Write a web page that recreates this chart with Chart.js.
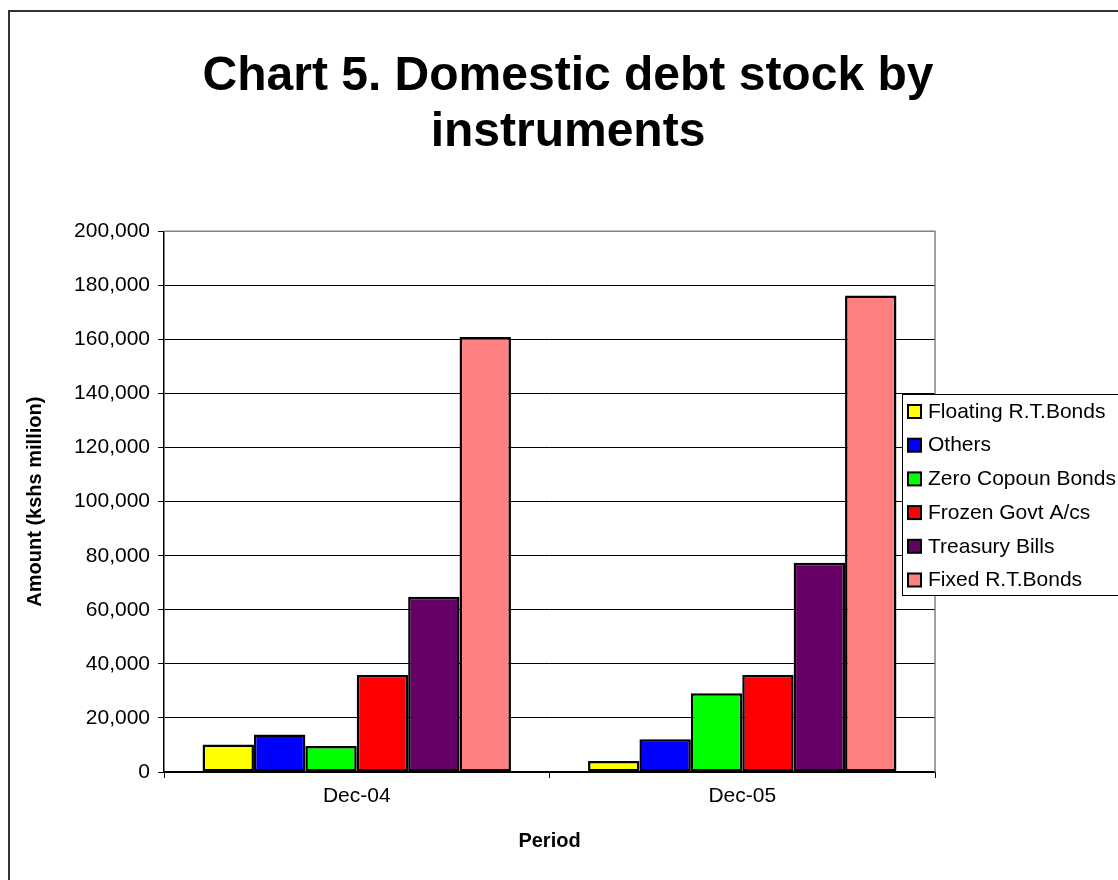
<!DOCTYPE html>
<html>
<head>
<meta charset="utf-8">
<script src="https://cdn.jsdelivr.net/npm/chart.js@4.4.1/dist/chart.umd.min.js"></script>
<style>
  html, body { margin: 0; padding: 0; background: #fff; overflow: hidden; width: 1118px; height: 880px; }
  #frame { position: absolute; left: 8px; top: 10px; width: 1200px; height: 900px; border: 2px solid #333; box-sizing: border-box; }
  #wrap { position: absolute; left: 0; top: 0; width: 1136px; height: 880px; }
</style>
</head>
<body>
<div id="frame"></div>
<div id="wrap"><canvas id="chart" width="1136" height="880"></canvas></div>
<script>
// values (kshs million)
const periods = ['Dec-04', 'Dec-05'];
const floatingBonds = [10200, 4100];
const others = [13900, 12100];
const zeroCouponBonds = [9600, 29100];
const frozenGovt = [35900, 35900];
const treasuryBills = [64800, 77400];
const fixedBonds = [160900, 176300];

const seriesNames = ['Floating R.T.Bonds', 'Others', 'Zero Copoun Bonds', 'Frozen Govt A/cs', 'Treasury Bills', 'Fixed R.T.Bonds'];
const seriesColors = ['#FFFF00', '#0000FF', '#00FF00', '#FF0000', '#660066', '#FF8080'];
const seriesValues = [floatingBonds, others, zeroCouponBonds, frozenGovt, treasuryBills, fixedBonds];

const FONT = 'Arial, "Liberation Sans", sans-serif';

const datasets = seriesNames.map((name, i) => ({
  label: name,
  data: seriesValues[i],
  backgroundColor: seriesColors[i],
  borderColor: '#000',
  borderWidth: 2.5,
  borderSkipped: false,
  categoryPercentage: 0.8,
  barPercentage: 1.0
}));

// grey frame on top/right of plot area
const plotFrame = {
  id: 'plotFrame',
  beforeDatasetsDraw(chart) {
    const { ctx, chartArea: a } = chart;
    ctx.save();
    ctx.strokeStyle = '#808080';
    ctx.lineWidth = 1.5;
    ctx.beginPath();
    ctx.moveTo(a.left, a.top);
    ctx.lineTo(a.right, a.top);
    ctx.lineTo(a.right, a.bottom);
    ctx.stroke();
    ctx.restore();
  }
};

// legend box overlapping the right edge like the original
const boxLegend = {
  id: 'boxLegend',
  afterDraw(chart) {
    const { ctx } = chart;
    const x = 902, y = 394, w = 240, h = 201, step = 33.7;
    ctx.save();
    ctx.fillStyle = '#fff';
    ctx.fillRect(x, y, w, h);
    ctx.strokeStyle = '#000';
    ctx.lineWidth = 1;
    ctx.strokeRect(x + 0.5, y + 0.5, w, h);
    ctx.font = '21px ' + FONT;
    ctx.textBaseline = 'middle';
    chart.data.datasets.forEach((ds, i) => {
      const cy = y + 17 + i * step;
      ctx.fillStyle = ds.backgroundColor;
      ctx.fillRect(908, cy - 6, 13, 13);
      ctx.lineWidth = 2;
      ctx.strokeStyle = '#000';
      ctx.strokeRect(908, cy - 6, 13, 13);
      ctx.fillStyle = '#000';
      ctx.fillText(ds.label, 928, cy + 1);
    });
    ctx.restore();
  }
};

new Chart(document.getElementById('chart'), {
  type: 'bar',
  data: { labels: periods, datasets },
  plugins: [plotFrame, boxLegend],
  options: {
    responsive: false,
    devicePixelRatio: 1,
    animation: false,
    layout: { padding: 0 },
    plugins: {
      legend: { display: false },
      tooltip: { enabled: false },
      title: {
        display: true,
        text: ['Chart 5. Domestic debt stock by', 'instruments'],
        color: '#000',
        font: { family: FONT, size: 48, weight: 'bold', lineHeight: 1.17 },
        padding: { top: 49, bottom: 70 }
      }
    },
    scales: {
      x: {
        grid: { display: true, drawOnChartArea: false, offset: true, tickLength: 6, color: '#000' },
        border: { color: '#000', width: 1.5 },
        ticks: { color: '#000', font: { family: FONT, size: 21 }, padding: 6 },
        title: { display: true, text: 'Period', color: '#000', font: { family: FONT, size: 20, weight: 'bold' }, padding: { top: 0, bottom: 27 } },
        afterFit(scale) { scale.height = 108; }
      },
      y: {
        min: 0,
        max: 200000,
        ticks: {
          stepSize: 20000,
          color: '#000',
          font: { family: FONT, size: 21 },
          padding: 8,
          callback: v => v.toLocaleString('en-US')
        },
        grid: { color: '#000', lineWidth: 1, tickLength: 6 },
        border: { color: '#000', width: 1.5 },
        title: { display: true, text: 'Amount (kshs million)', color: '#000', font: { family: FONT, size: 20, weight: 'bold' }, padding: { top: 23, bottom: 0 } },
        afterFit(scale) { scale.width = 164; }
      },
      // empty right-hand band that holds the space where the legend sits
      side: {
        type: 'linear',
        position: 'right',
        display: true,
        grid: { display: false },
        border: { display: false },
        ticks: { display: false },
        afterFit(scale) { scale.width = 201; }
      }
    }
  }
});
</script>
</body>
</html>
